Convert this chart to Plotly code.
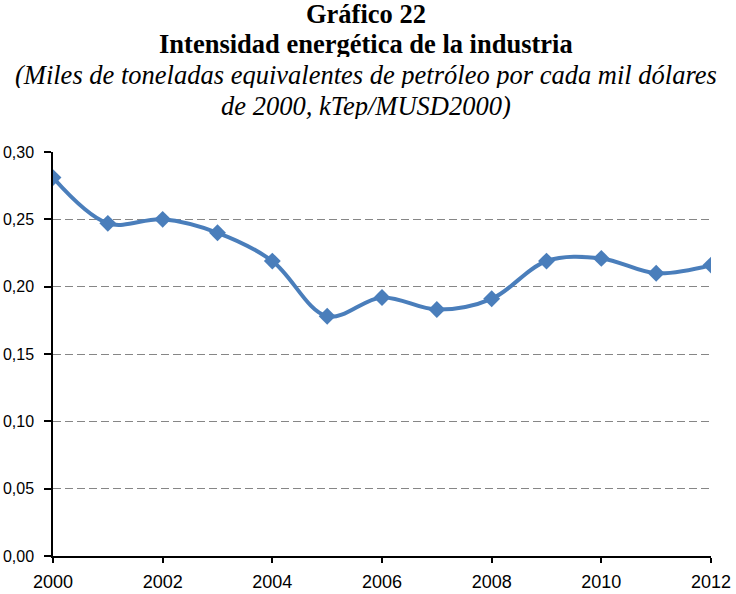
import plotly.graph_objects as go

# Intensidad energética de la industria (kTep/MUSD2000)
years = [2000, 2001, 2002, 2003, 2004, 2005, 2006, 2007, 2008, 2009, 2010, 2011, 2012]
intensidad = [0.281, 0.247, 0.250, 0.240, 0.219, 0.178, 0.192, 0.183, 0.191, 0.219, 0.221, 0.210, 0.216]

x_ticks = [2000, 2002, 2004, 2006, 2008, 2010, 2012]
y_ticks = [0.00, 0.05, 0.10, 0.15, 0.20, 0.25, 0.30]

fig = go.Figure()
fig.add_trace(go.Scatter(
    x=years, y=intensidad,
    mode="lines+markers",
    line=dict(color="#4A7EBB", width=4, shape="spline", smoothing=1),
    marker=dict(symbol="diamond", size=13, color="#4A7EBB"),
    showlegend=False,
))

W, H = 736, 594
L, R, T, B = 53, 25, 152, 38
serif = "Liberation Serif, Times New Roman, serif"
titles = [
    ("<b>Gráfico 22</b>", 14),
    ("<b>Intensidad energética de la industria</b>", 44),
    ("<i>(Miles de toneladas equivalentes de petróleo por cada mil dólares</i>", 75),
    ("<i>de 2000, kTep/MUSD2000)</i>", 106),
]
for txt, cy in titles:
    fig.add_annotation(
        text=txt, showarrow=False, height=26, borderpad=0,
        x=(366 - L) / (W - L - R), y=1 + (T - cy) / (H - T - B),
        xref="paper", yref="paper", xanchor="center", yanchor="middle",
        font=dict(family=serif, size=26.5, color="black"),
    )

fig.update_xaxes(
    range=[2000, 2012], tickvals=x_ticks,
    showgrid=False, zeroline=False, automargin=False,
    showline=True, linecolor="black", linewidth=1.5,
    ticks="outside", ticklen=5, tickcolor="black", tickwidth=1.5,
    ticklabelstandoff=4,
    tickfont=dict(family="Liberation Sans, Arial", size=18, color="black"),
)
fig.update_yaxes(
    range=[0, 0.30], tickvals=y_ticks, tickformat=".2f",
    showgrid=True, gridcolor="#868686", griddash="8px,4px", gridwidth=1,
    zeroline=False, automargin=False,
    showline=True, linecolor="black", linewidth=1.5,
    ticks="outside", ticklen=7, tickcolor="black", tickwidth=1.5,
    ticklabelstandoff=7,
    tickfont=dict(family="Liberation Sans, Arial", size=16, color="black"),
)
fig.update_layout(
    width=W, height=H,
    margin=dict(l=L, r=R, t=T, b=B),
    plot_bgcolor="white", paper_bgcolor="white",
    separators=",.",
)
fig.write_html("out.html", config={"displayModeBar": False},
               post_script="document.body.style.margin='0';")
